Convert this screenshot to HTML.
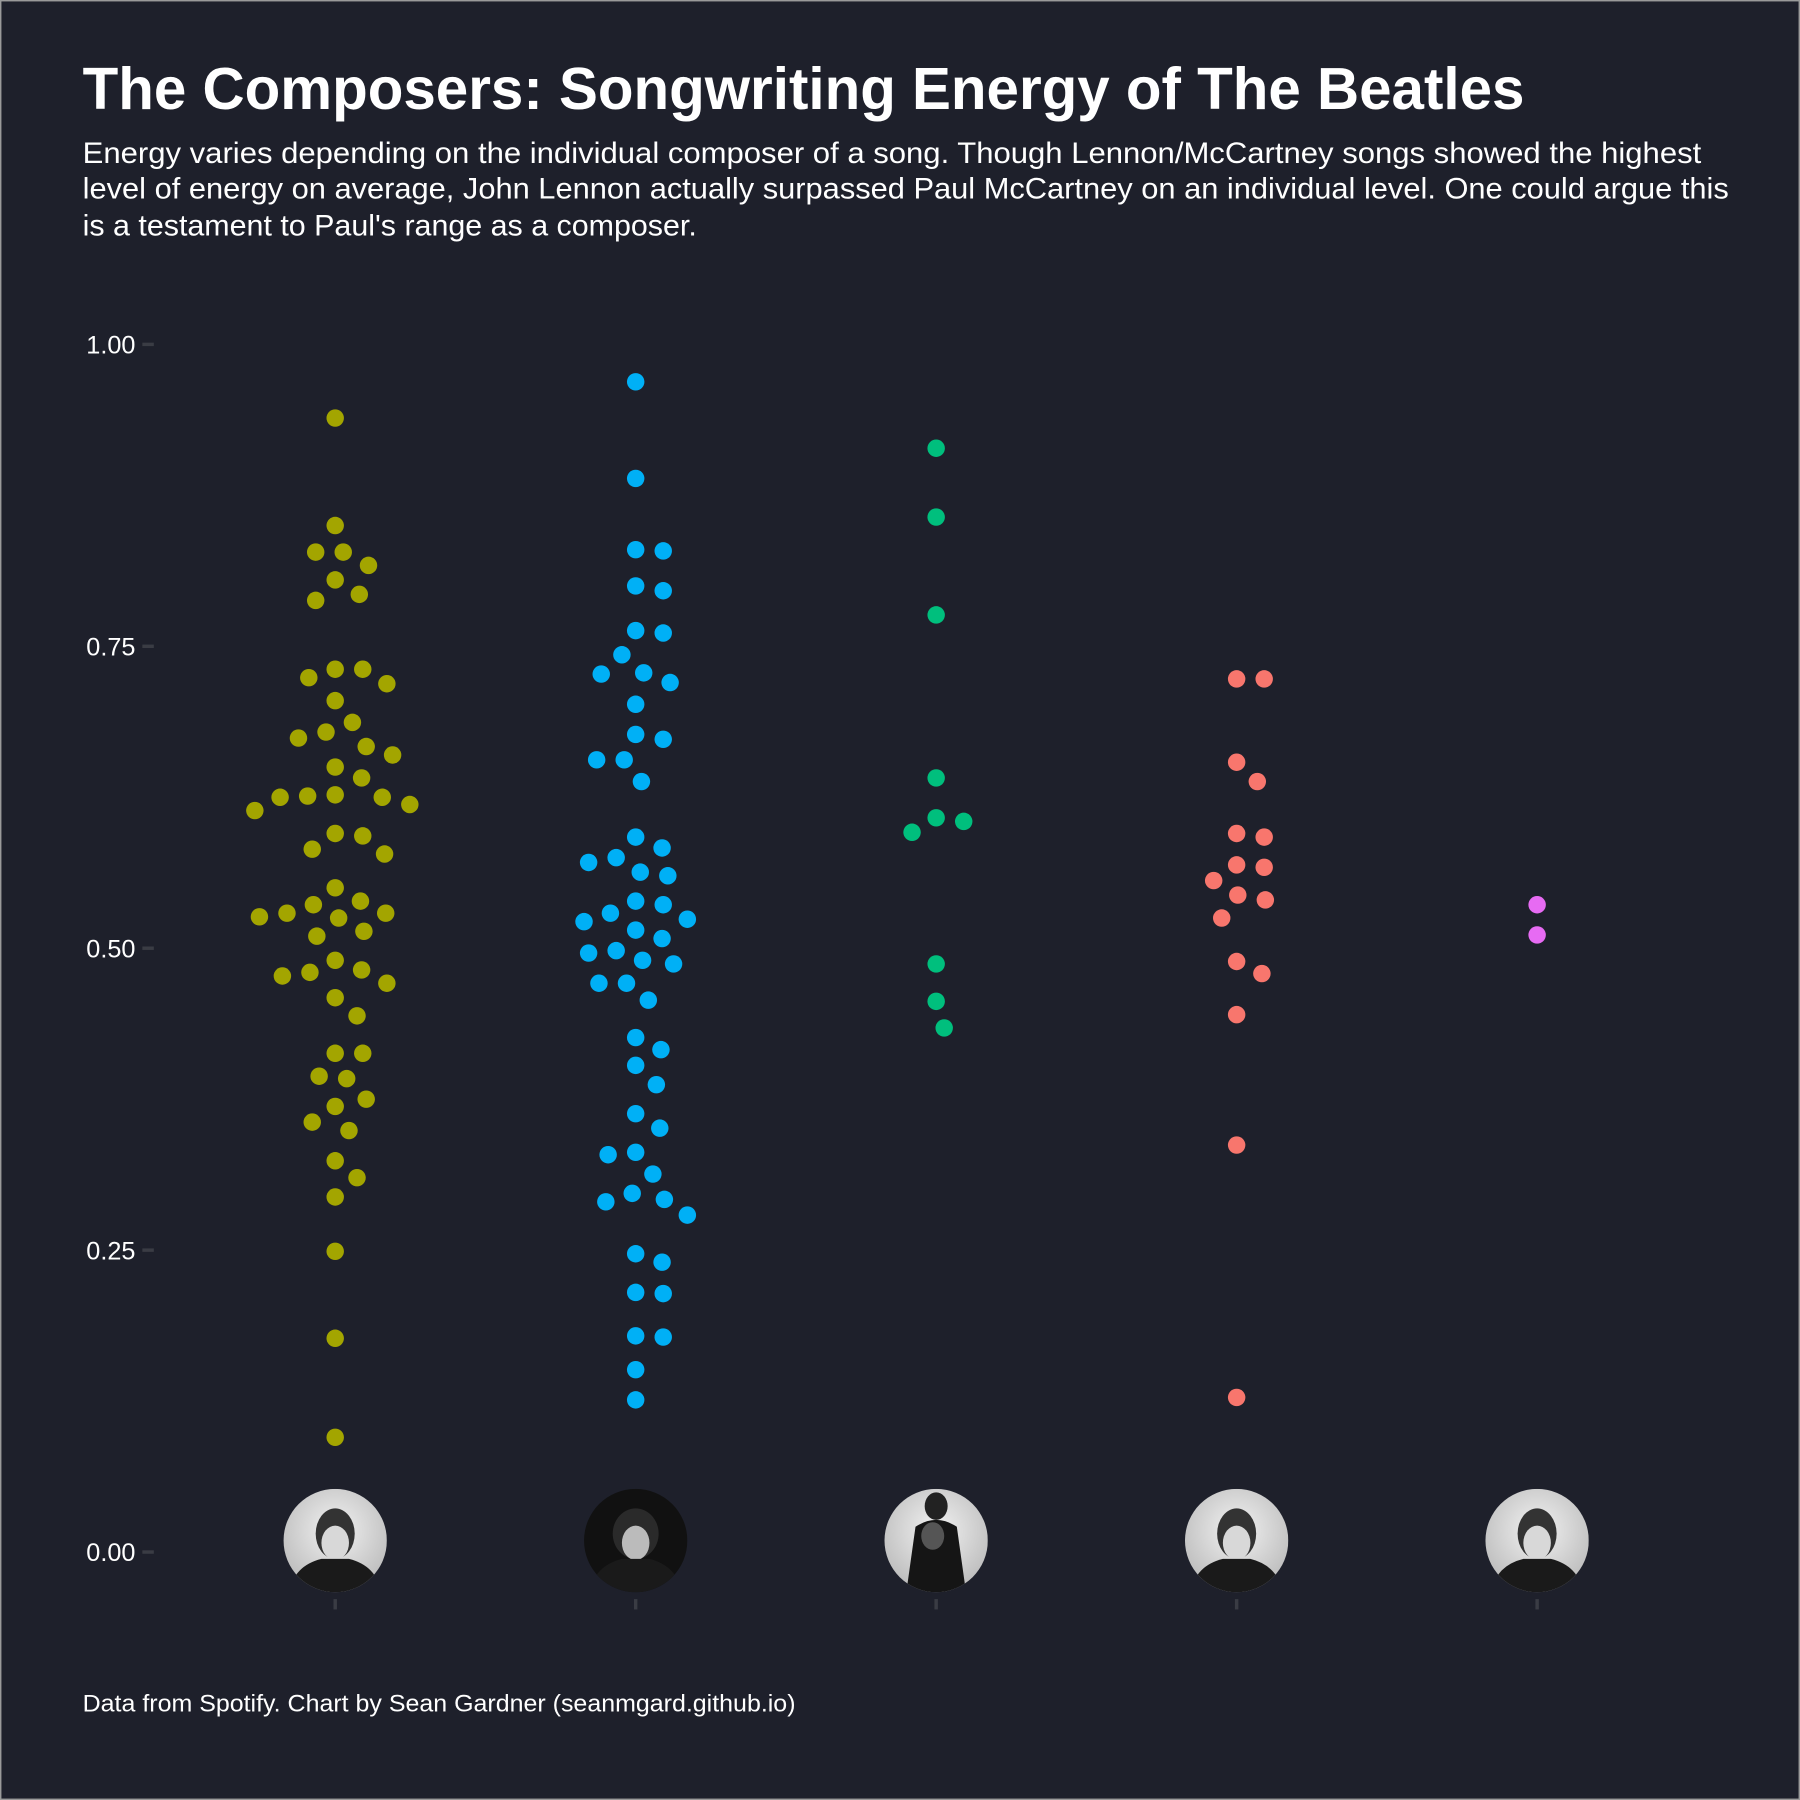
<!DOCTYPE html>
<html><head><meta charset="utf-8"><style>
html,body{margin:0;padding:0;background:#1e202b;}
svg{display:block;font-family:"Liberation Sans",sans-serif;}
</style></head><body>
<svg id="chart" width="1800" height="1800" viewBox="0 0 1568 1568" xmlns="http://www.w3.org/2000/svg">
<defs>
<radialGradient id="gl" cx="50%" cy="40%" r="60%"><stop offset="0" stop-color="#f2f2f2"/><stop offset="1" stop-color="#bdbdbd"/></radialGradient>
<clipPath id="c0"><circle cx="0" cy="0" r="45"/></clipPath>
</defs>
<rect x="0.5" y="0.5" width="1567" height="1567" fill="#1e202b" stroke="#9a9a9a" stroke-width="1.5"/>
<text x="72" y="95" fill="#ffffff" font-size="52" font-weight="bold" textLength="1256" lengthAdjust="spacingAndGlyphs">The Composers: Songwriting Energy of The Beatles</text>
<g fill="#ffffff" font-size="26">
<text x="72" y="142" textLength="1410" lengthAdjust="spacingAndGlyphs">Energy varies depending on the individual composer of a song. Though Lennon/McCartney songs showed the highest</text>
<text x="72" y="173" textLength="1434" lengthAdjust="spacingAndGlyphs">level of energy on average, John Lennon actually surpassed Paul McCartney on an individual level. One could argue this</text>
<text x="72" y="205" textLength="535" lengthAdjust="spacingAndGlyphs">is a testament to Paul's range as a composer.</text>
</g>
<g id="yaxis"></g>
<g id="xaxis"></g>
<g id="points"></g>
<text x="72" y="1491" fill="#ffffff" font-size="21" textLength="621" lengthAdjust="spacingAndGlyphs">Data from Spotify. Chart by Sean Gardner (seanmgard.github.io)</text>
</svg>
<script>
const categories = ["John Lennon","Paul McCartney","Lennon/McCartney","George Harrison","Ringo Starr"];
const colors = ["#a3a500","#00b0f6","#00bf7d","#f8766d","#e76bf3"];
const yTicks = [0,0.25,0.5,0.75,1];
const yTickLabels = ["0.00","0.25","0.50","0.75","1.00"];
const lennon = [0.939,0.850,0.828,0.817,0.828,0.805,0.793,0.788,0.731,0.724,0.719,0.731,0.705,0.687,0.679,0.674,0.667,0.660,0.650,0.641,0.627,0.625,0.625,0.626,0.619,0.614,0.595,0.593,0.582,0.578,0.550,0.539,0.536,0.529,0.529,0.526,0.525,0.514,0.510,0.490,0.482,0.480,0.477,0.471,0.459,0.444,0.413,0.413,0.394,0.392,0.375,0.369,0.356,0.349,0.324,0.310,0.294,0.249,0.177,0.095];
const mccartney = [0.969,0.889,0.830,0.829,0.800,0.796,0.763,0.761,0.743,0.728,0.727,0.720,0.702,0.677,0.673,0.656,0.656,0.638,0.592,0.583,0.575,0.571,0.563,0.560,0.539,0.536,0.529,0.524,0.522,0.515,0.508,0.498,0.496,0.490,0.487,0.471,0.471,0.457,0.426,0.416,0.403,0.387,0.363,0.351,0.331,0.329,0.313,0.297,0.292,0.290,0.279,0.247,0.240,0.215,0.214,0.179,0.178,0.151,0.126];
const lennonMcCartney = [0.914,0.857,0.776,0.641,0.608,0.605,0.596,0.487,0.456,0.434];
const harrison = [0.723,0.723,0.654,0.638,0.595,0.592,0.569,0.567,0.556,0.544,0.540,0.525,0.489,0.479,0.445,0.337,0.128];
const starr = [0.536,0.511];
const series = [lennon, mccartney, lennonMcCartney, harrison, starr];

const NS="http://www.w3.org/2000/svg";
const y0=1352, y1=300, xFirst=292, xStep=261.75, R=7.6, SEP=24;
function yScale(v){return y0+(y1-y0)*v;}
function xScale(i){return xFirst+xStep*i;}
function mk(tag,attrs,parent){const e=document.createElementNS(NS,tag);for(const k in attrs)e.setAttribute(k,attrs[k]);parent.appendChild(e);return e;}

const yax=document.getElementById('yaxis');
yTicks.forEach((t,i)=>{
  const y=yScale(t);
  const l=mk('line',{x1:124,x2:134,y1:y,y2:y,stroke:'#3a3c44','stroke-width':3},yax);
  
  
  const tx=mk('text',{x:118,y:y+8,fill:'#ffffff','font-size':22,'text-anchor':'end'},yax);
  tx.textContent=yTickLabels[i];
  
  
});

const xax=document.getElementById('xaxis');
categories.forEach((c,i)=>{
  const x=xScale(i);
  const l=mk('line',{x1:x,x2:x,y1:1393,y2:1402,stroke:'#3a3c44','stroke-width':3},xax);
  
  
  const g=mk('g',{transform:`translate(${x},1342)`,'clip-path':'url(#c0)'},xax);
  
  
  const ttl=mk('title',{},g); ttl.textContent=c;
  const dark = i===1;
  mk('rect',{x:-45,y:-45,width:90,height:90,fill:dark?'#111':'url(#gl)'},g);
  if(i===2){
    mk('ellipse',{cx:0,cy:-30,rx:10,ry:12,fill:'#222'},g);
    mk('path',{d:'M-18,-12 Q0,-24 18,-12 L26,45 L-26,45 Z',fill:'#151515'},g);
    mk('ellipse',{cx:-3,cy:-4,rx:10,ry:12,fill:'#555'},g);
  } else {
    mk('ellipse',{cx:0,cy:-6,rx:dark?20:17,ry:22,fill:dark?'#2a2a2a':'#333'},g);
    mk('ellipse',{cx:0,cy:2,rx:12,ry:15,fill:dark?'#bbb':'#d8d8d8'},g);
    mk('path',{d:'M-40,45 Q-36,22 -12,16 L12,16 Q36,22 40,45 Z',fill:'#1a1a1a'},g);
  }
});

const pg=document.getElementById('points');
series.forEach((vals,i)=>{
  const cx=xScale(i);
  const placed=[];
  const order=vals.map((v,k)=>k).sort((a,b)=>vals[b]-vals[a]);
  order.forEach(k=>{
    const y=yScale(vals[k]);
    let off=0;
    for(let s=0;s<600;s++){
      const cand = s===0?0:(s%2?1:-1)*Math.ceil(s/2);
      const ok=placed.every(p=>(p.x-cand)**2+(p.y-y)**2>=SEP*SEP);
      if(ok){off=cand;break;}
    }
    placed.push({x:off,y:y});
    const c=mk('circle',{cx:cx+off,cy:y,r:R,fill:colors[i]},pg);
    
    
  });
});
</script>
</body></html>
